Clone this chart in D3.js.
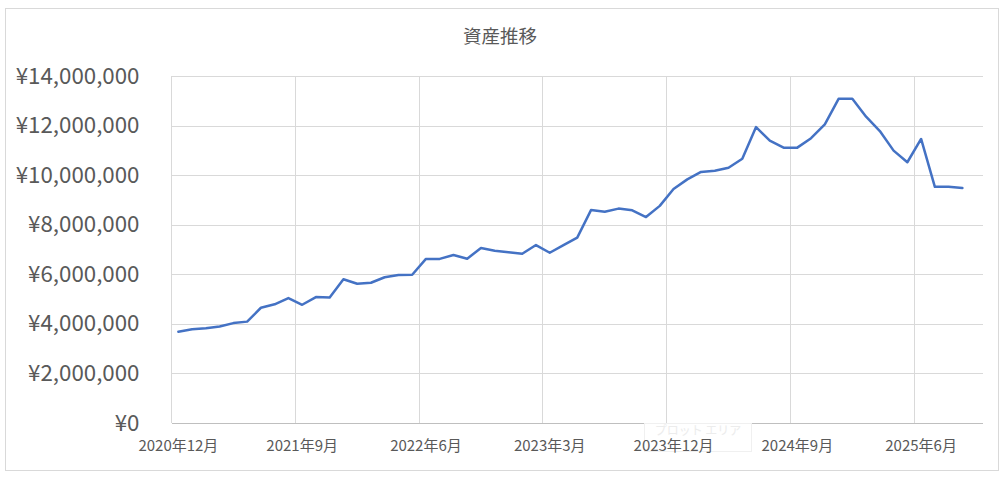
<!DOCTYPE html>
<html>
<head>
<meta charset="utf-8">
<script src="https://cdn.jsdelivr.net/npm/d3@7"></script>
<style>
  html, body { margin: 0; padding: 0; background: #fff; }
  svg { display: block; }
</style>
</head>
<body>
<svg id="chart" width="1003" height="478"></svg>
<script>
const chartTitle = "資産推移";
const months = [
  "2020-12",
  "2021-01","2021-02","2021-03","2021-04","2021-05","2021-06","2021-07","2021-08","2021-09","2021-10","2021-11","2021-12",
  "2022-01","2022-02","2022-03","2022-04","2022-05","2022-06","2022-07","2022-08","2022-09","2022-10","2022-11","2022-12",
  "2023-01","2023-02","2023-03","2023-04","2023-05","2023-06","2023-07","2023-08","2023-09","2023-10","2023-11","2023-12",
  "2024-01","2024-02","2024-03","2024-04","2024-05","2024-06","2024-07","2024-08","2024-09","2024-10","2024-11","2024-12",
  "2025-01","2025-02","2025-03","2025-04","2025-05","2025-06","2025-07","2025-08","2025-09","2025-10"
];
const assets = [
  3680000, 3780000, 3820000, 3890000, 4030000, 4090000, 4650000, 4790000, 5040000, 4770000,
  5080000, 5060000, 5800000, 5620000, 5660000, 5880000, 5970000, 5980000, 6620000, 6620000,
  6780000, 6630000, 7060000, 6950000, 6890000, 6830000, 7180000, 6870000, 7180000, 7480000,
  8590000, 8520000, 8650000, 8580000, 8310000, 8760000, 9440000, 9830000, 10130000, 10180000,
  10300000, 10660000, 11940000, 11390000, 11110000, 11110000, 11490000, 12050000, 13080000, 13080000,
  12360000, 11780000, 10990000, 10520000, 11460000, 9530000, 9530000, 9480000
];
const tickMonths = ["2020-12","2021-09","2022-06","2023-03","2023-12","2024-09","2025-06"];
const tickLabels = ["2020年12月","2021年9月","2022年6月","2023年3月","2023年12月","2024年9月","2025年6月"];
const yTicks = [0, 2000000, 4000000, 6000000, 8000000, 10000000, 12000000, 14000000];

const svg = d3.select("#chart");
const plot = { left: 171.5, right: 983, top: 76, bottom: 423 };
const font = "'Noto Sans CJK JP', 'Noto Sans', sans-serif";
const textColor = "#595959";

// outer chart border
svg.append("rect")
  .attr("x", 5.5).attr("y", 8.5)
  .attr("width", 993).attr("height", 462)
  .attr("fill", "#fff").attr("stroke", "#d9d9d9").attr("stroke-width", 1);

// title
svg.append("text")
  .attr("x", 500).attr("y", 35)
  .attr("text-anchor", "middle").attr("dominant-baseline", "central")
  .attr("font-family", font).attr("font-size", 18.5)
  .attr("fill", textColor)
  .text(chartTitle);

const x = d3.scaleBand().domain(months).range([plot.left, plot.right]).padding(0);
const y = d3.scaleLinear().domain([0, 14000000]).range([plot.bottom, plot.top]);

// horizontal gridlines + y labels
const yAxis = d3.axisLeft(y)
  .tickValues(yTicks)
  .tickSize(-(plot.right - plot.left))
  .tickPadding(32)
  .tickFormat(d => "¥" + d3.format(",")(d));
const gy = svg.append("g").attr("transform", `translate(${plot.left},0)`).call(yAxis);
gy.select(".domain").remove();
gy.selectAll(".tick line").attr("stroke", "#d9d9d9").attr("stroke-width", 1)
  .attr("shape-rendering", "crispEdges");
gy.selectAll(".tick").filter(d => d === 0).select("line").attr("stroke", "#bfbfbf");
gy.selectAll(".tick text")
  .attr("font-family", font).attr("font-size", 22.3)
  .attr("fill", textColor);

// vertical gridlines at start of labelled categories
svg.append("g").selectAll("line")
  .data(tickMonths)
  .join("line")
  .attr("x1", d => x(d)).attr("x2", d => x(d))
  .attr("y1", plot.top).attr("y2", plot.bottom)
  .attr("stroke", "#d9d9d9").attr("stroke-width", 1)
  .attr("shape-rendering", "crispEdges");

// faint "plot area" tooltip remnant
svg.append("rect")
  .attr("x", 644.5).attr("y", 423.5).attr("width", 107).attr("height", 28)
  .attr("fill", "#fff").attr("fill-opacity", 0.6)
  .attr("stroke", "#f0f0f0");
svg.append("text")
  .attr("x", 698).attr("y", 429.5)
  .attr("text-anchor", "middle").attr("dominant-baseline", "central")
  .attr("font-family", font).attr("font-size", 12)
  .attr("fill", "#ececec")
  .text("プロット エリア");

// x labels
const xAxis = d3.axisBottom(x)
  .tickValues(tickMonths)
  .tickSize(0)
  .tickPadding(17)
  .tickFormat(d => tickLabels[tickMonths.indexOf(d)]);
const gx = svg.append("g").attr("transform", `translate(0,${plot.bottom})`).call(xAxis);
gx.select(".domain").remove();
gx.selectAll(".tick text")
  .attr("font-family", font).attr("font-size", 15)
  .attr("fill", textColor);

// line
const line = d3.line()
  .x((d, i) => x(months[i]) + x.bandwidth() / 2)
  .y(d => y(d));
svg.append("path")
  .datum(assets)
  .attr("fill", "none")
  .attr("stroke", "#4472C4")
  .attr("stroke-width", 2.5)
  .attr("stroke-linejoin", "round")
  .attr("stroke-linecap", "round")
  .attr("d", line);
</script>
</body>
</html>
